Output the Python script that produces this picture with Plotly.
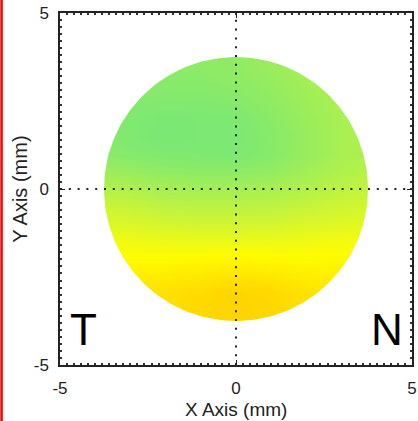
import numpy as np
import plotly.graph_objects as go

# ---- data ----
x_mm = [-4, -3, -2, -1, 0, 1, 2, 3, 4]
y_mm = [-4.0, -3.5, -3.0, -2.5, -2.0, -1.5, -1.0, -0.5, 0.0,
        0.5, 1.0, 1.5, 2.0, 2.5, 3.0, 3.5, 4.0]
# relative map value (0 = cyan-green, 1 = orange), rows follow y_mm
z_rows = [
    [0.86, 0.87, 0.89, 0.92, 0.94, 0.92, 0.88, 0.84, 0.82],  # -4.0
    [0.86, 0.87, 0.89, 0.92, 0.96, 0.93, 0.88, 0.84, 0.82],  # -3.5
    [0.85, 0.86, 0.88, 0.91, 0.95, 0.92, 0.87, 0.83, 0.81],  # -3.0
    [0.81, 0.81, 0.82, 0.84, 0.86, 0.84, 0.81, 0.79, 0.78],  # -2.5
    [0.74, 0.73, 0.73, 0.74, 0.75, 0.74, 0.73, 0.74, 0.75],  # -2.0
    [0.67, 0.66, 0.65, 0.64, 0.64, 0.65, 0.66, 0.68, 0.69],  # -1.5
    [0.60, 0.58, 0.56, 0.55, 0.55, 0.56, 0.58, 0.60, 0.62],  # -1.0
    [0.53, 0.51, 0.48, 0.47, 0.47, 0.48, 0.51, 0.54, 0.56],  # -0.5
    [0.45, 0.43, 0.40, 0.39, 0.39, 0.41, 0.44, 0.48, 0.50],  #  0.0
    [0.36, 0.34, 0.31, 0.30, 0.30, 0.32, 0.38, 0.43, 0.46],  #  0.5
    [0.29, 0.27, 0.25, 0.24, 0.24, 0.28, 0.34, 0.40, 0.43],  #  1.0
    [0.27, 0.25, 0.21, 0.23, 0.23, 0.28, 0.34, 0.40, 0.43],  #  1.5
    [0.27, 0.25, 0.22, 0.23, 0.24, 0.29, 0.35, 0.40, 0.43],  #  2.0
    [0.28, 0.27, 0.26, 0.26, 0.27, 0.31, 0.36, 0.41, 0.44],  #  2.5
    [0.29, 0.29, 0.28, 0.28, 0.30, 0.33, 0.38, 0.42, 0.44],  #  3.0
    [0.30, 0.30, 0.30, 0.30, 0.31, 0.35, 0.39, 0.42, 0.44],  #  3.5
    [0.30, 0.30, 0.30, 0.30, 0.32, 0.36, 0.40, 0.42, 0.44],  #  4.0
]
zone_radius = 3.75
axis_ticks = [-5, 0, 5]
tick_labels = ["-5", "0", "5"]
side_labels = ["T", "N"]
x_title = "X Axis (mm)"
y_title = "Y Axis (mm)"

color_stops = [
    [0.00, "rgb(100,228,140)"],
    [0.15, "rgb(112,230,128)"],
    [0.25, "rgb(128,233,112)"],
    [0.35, "rgb(155,237,92)"],
    [0.45, "rgb(182,242,72)"],
    [0.55, "rgb(210,246,48)"],
    [0.65, "rgb(238,250,22)"],
    [0.72, "rgb(255,252,0)"],
    [0.80, "rgb(255,238,0)"],
    [0.90, "rgb(255,220,0)"],
    [1.00, "rgb(255,205,0)"],
]

FONT = "Liberation Sans, Arial, sans-serif"

fig = go.Figure()
fig.add_trace(go.Heatmap(
    x=x_mm, y=y_mm, z=z_rows, zmin=0, zmax=1,
    colorscale=color_stops, zsmooth="best", showscale=False,
    hoverinfo="skip",
))

# white mask outside the measured circular zone (single polygon with slit)
lim = 5
theta = np.linspace(0, -2 * np.pi, 241)
mask_x = [lim, lim, -lim, -lim, lim, lim] + list(zone_radius * np.cos(theta)) + [lim]
mask_y = [0, lim, lim, -lim, -lim, 0] + list(zone_radius * np.sin(theta)) + [0]
fig.add_trace(go.Scatter(
    x=mask_x, y=mask_y, mode="lines", fill="toself",
    fillcolor="white", line=dict(width=0, color="white"),
    hoverinfo="skip", showlegend=False,
))

# dotted crosshair
for sh in [dict(x0=0, x1=0, y0=-lim, y1=lim), dict(x0=-lim, x1=lim, y0=0, y1=0)]:
    fig.add_shape(type="line", xref="x", yref="y", layer="above",
                  line=dict(color="#222222", width=2, dash="2px,6.8px"), **sh)

# left red border of the image
fig.add_shape(type="line", xref="paper", yref="paper",
              x0=-0.166, x1=-0.166, y0=-0.2, y1=1.1,
              line=dict(color="red", width=2.5))

fig.add_annotation(x=-4.32, y=-4.0, text=side_labels[0], showarrow=False,
                   xanchor="center", yanchor="middle",
                   font=dict(family=FONT, size=44, color="black"))
fig.add_annotation(x=4.29, y=-4.0, text=side_labels[1], showarrow=False,
                   xanchor="center", yanchor="middle",
                   font=dict(family=FONT, size=44, color="black"))

# axis titles placed as paper-anchored text
fig.add_annotation(xref="paper", yref="paper", x=0.5, y=-0.127, text=x_title,
                   showarrow=False, xanchor="center", yanchor="middle",
                   font=dict(family=FONT, size=19, color="#222222"))
fig.add_annotation(xref="paper", yref="paper", x=-0.114, y=0.5, text=y_title,
                   showarrow=False, xanchor="center", yanchor="middle",
                   textangle=-90,
                   font=dict(family=FONT, size=20, color="#222222"))

axis_common = dict(
    range=[-5, 5], showgrid=False, zeroline=False, automargin=False,
    showline=True, linecolor="#222222", linewidth=1.5, mirror="allticks",
    ticks="inside", ticklen=5, tickwidth=1, tickcolor="#222222",
    tickvals=axis_ticks, ticktext=tick_labels,
    tickfont=dict(family=FONT, size=17, color="#222222"),
    minor=dict(dtick=0.2, tick0=-5, ticks="inside", ticklen=2,
               tickwidth=1.5, tickcolor="#333333", showgrid=False),
    fixedrange=True,
)

fig.update_layout(
    width=418, height=421,
    margin=dict(l=60, r=6, t=13, b=56, pad=0),
    paper_bgcolor="white", plot_bgcolor="white",
    showlegend=False,
    xaxis=dict(**axis_common, ticklabelstandoff=7),
    yaxis=dict(**axis_common, ticklabelstandoff=6),
)

fig.write_html(
    "out.html",
    config={"displayModeBar": False},
    post_script="document.body.style.margin='0';document.body.style.overflow='hidden';",
)
